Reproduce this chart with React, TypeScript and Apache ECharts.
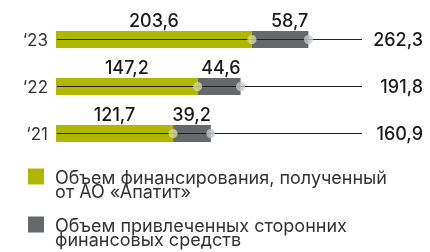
import React, { useEffect, useRef } from "react";
import * as echarts from "echarts";

const years = ["\u201821", "\u201822", "\u201823"];
const fromApatit = [121.7, 147.2, 203.6];
const attracted = [39.2, 44.6, 58.7];
const totals = [160.9, 191.8, 262.3];
const totalLabels = ["160,9", "191,8", "262,3"];
const seriesNames = [
  "Объем финансирования, полученный\nот АО «Апатит»",
  "Объем привлеченных сторонних\nфинансовых средств",
];

const GREEN = "#b1b700";
const GRAY = "#66696c";
const AXIS_MAX = 318;
const FONT = "Inter, Roboto, sans-serif";
const fmt = (v: number) => v.toFixed(1).replace(".", ",");

const legendFor = (name: string, top: number) => ({
  orient: "vertical",
  left: 23,
  top,
  icon: "rect",
  itemWidth: 16,
  itemHeight: 16,
  selectedMode: false,
  data: [name],
  formatter: (n: string) =>
    "{e|}\n" + n.split("\n").map((s) => "{t|" + s + "}").join("\n"),
  textStyle: {
    color: "#333",
    fontSize: 18,
    fontFamily: FONT,
    rich: {
      e: { lineHeight: 16, fontSize: 10 },
      t: {
        color: "#333",
        fontSize: 18,
        fontFamily: FONT,
        lineHeight: 14.5,
        padding: [0, 0, 0, 6],
      },
    },
  },
});

export default function App() {
  const ref = useRef<HTMLDivElement>(null);
  useEffect(() => {
    if (!ref.current) return;
    const chart = echarts.init(ref.current, null, { renderer: "svg" });
    chart.setOption({
      animation: false,
      textStyle: { fontFamily: FONT },
      grid: { left: 56, width: 306, top: 16, height: 141 },
      xAxis: { type: "value", min: 0, max: AXIS_MAX, show: false },
      yAxis: [
        {
          type: "category",
          data: years,
          axisLine: { show: false },
          axisTick: { show: false },
          axisLabel: { color: "#333", fontSize: 17, fontFamily: FONT, margin: 8 },
        },
        {
          type: "category",
          data: totalLabels,
          position: "right",
          axisLine: { show: false },
          axisTick: { show: false },
          axisLabel: {
            color: "#1a1a1a",
            fontSize: 18,
            fontWeight: 500,
            fontFamily: FONT,
            align: "right",
            margin: 61,
          },
        },
      ],
      legend: [legendFor(seriesNames[0], 152), legendFor(seriesNames[1], 200)],
      series: [
        {
          name: seriesNames[0],
          type: "bar",
          stack: "t",
          barWidth: 17,
          data: fromApatit,
          itemStyle: { color: GREEN },
          label: {
            show: true,
            position: "top",
            distance: 2,
            color: "#1a1a1a",
            fontSize: 18,
            fontWeight: 500,
            fontFamily: FONT,
            formatter: (p: any) => fmt(p.value),
          },
        },
        {
          name: seriesNames[1],
          type: "bar",
          stack: "t",
          barWidth: 17,
          data: attracted,
          itemStyle: { color: GRAY },
          label: {
            show: true,
            position: ["100%", -2],
            align: "right",
            verticalAlign: "bottom",
            color: "#1a1a1a",
            fontSize: 18,
            fontWeight: 500,
            fontFamily: FONT,
            formatter: (p: any) => fmt(p.value),
          },
        },
        {
          type: "custom",
          silent: true,
          z: 5,
          data: years.map((_, i) => [AXIS_MAX, i]),
          renderItem: (params: any, api: any) => {
            const end = api.coord([api.value(0), api.value(1)]);
            const start = api.coord([0, api.value(1)]);
            return {
              type: "line",
              shape: { x1: start[0] + 1, y1: start[1], x2: end[0], y2: end[1] },
              style: { stroke: "#222", lineWidth: 1.2 },
            };
          },
        },
        {
          type: "scatter",
          z: 6,
          symbolSize: 9,
          data: fromApatit.map((v, i) => [v, i]),
          itemStyle: { color: "#d8db8e" },
        },
        {
          type: "scatter",
          z: 6,
          symbolSize: 9,
          data: totals.map((v, i) => [v, i]),
          itemStyle: { color: "#c6c7c9" },
        },
      ],
    });
    return () => chart.dispose();
  }, []);
  return (
    <div
      ref={ref}
      style={{ position: "fixed", left: 0, top: 0, width: 430, height: 252 }}
    />
  );
}
